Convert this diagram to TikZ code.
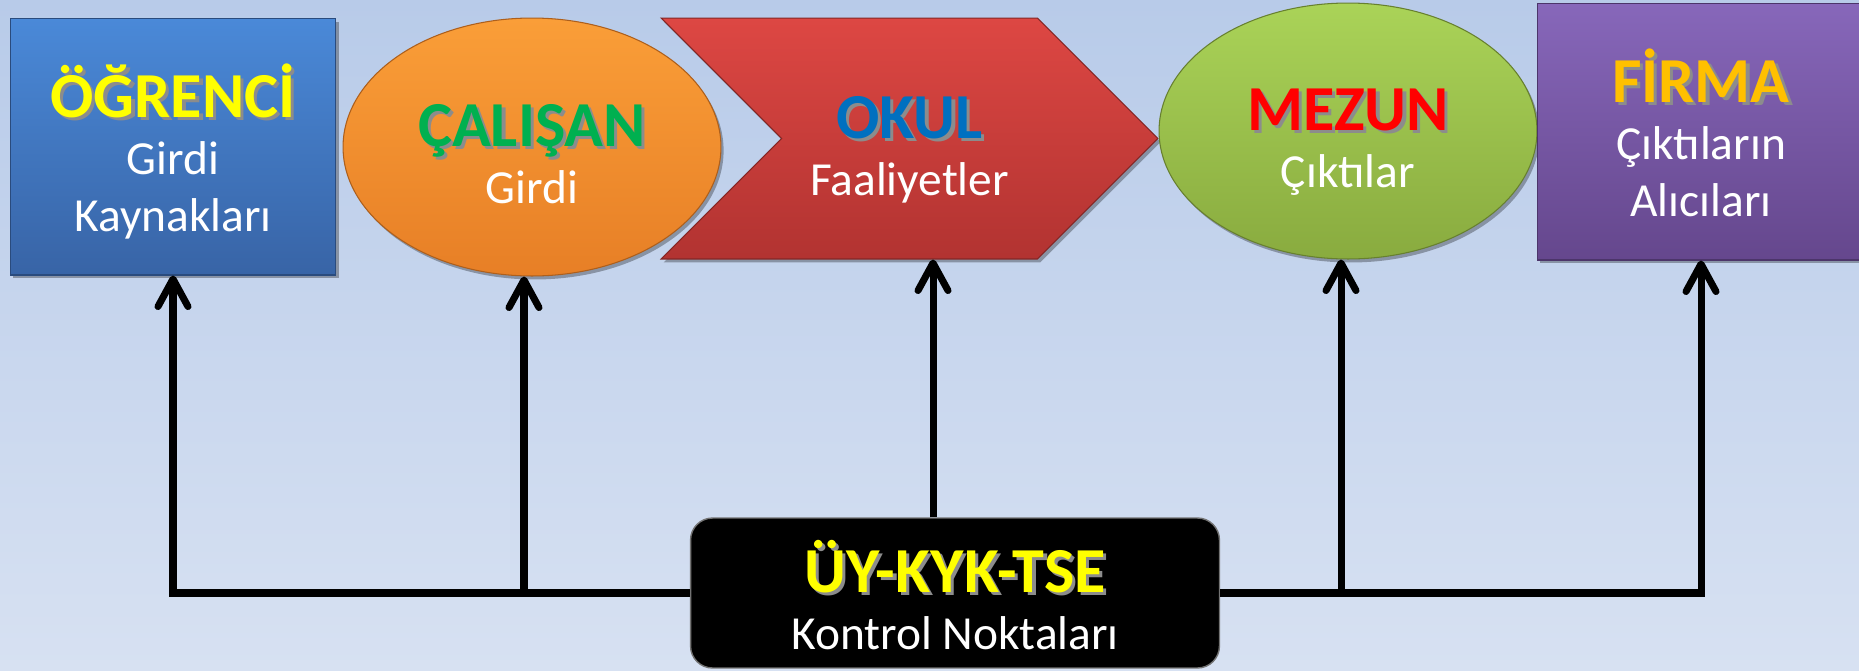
\documentclass[tikz,border=0pt]{standalone}
\usepackage{fontspec}
\setmainfont{Carlito}
\usetikzlibrary{arrows.meta,shapes.geometric,shapes.symbols,shadows}

\definecolor{bgtop}{RGB}{184,203,233}
\definecolor{bgbot}{RGB}{215,225,242}
\definecolor{bluetop}{RGB}{74,137,216}
\definecolor{bluebot}{RGB}{56,100,166}
\definecolor{orangetop}{RGB}{250,158,56}
\definecolor{orangebot}{RGB}{231,127,38}
\definecolor{redtop}{RGB}{221,71,67}
\definecolor{redbot}{RGB}{178,51,49}
\definecolor{greentop}{RGB}{170,211,88}
\definecolor{greenbot}{RGB}{137,171,63}
\definecolor{purpletop}{RGB}{135,103,186}
\definecolor{purplebot}{RGB}{101,71,141}
\definecolor{ttlyellow}{RGB}{255,255,0}
\definecolor{ttlgreen}{RGB}{0,176,80}
\definecolor{ttlblue}{RGB}{0,112,192}
\definecolor{ttlred}{RGB}{255,0,0}
\definecolor{ttlgold}{RGB}{255,192,0}

% bold title with a small dark shadow
\newcommand{\ttl}[2]{{\bfseries\fontsize{36.5}{40}\selectfont\rule{0pt}{38pt}\makebox[0pt][l]{\kern1.8pt\raisebox{-1.8pt}{\textcolor{black!45}{#2}}}\textcolor{#1}{#2}}}

\begin{document}
\begin{tikzpicture}[
    x=0.02cm, y=-0.02cm,
    panel/.style={top color=#1top, bottom color=#1bot, draw=#1bot!75!black, line width=0.6pt,
      drop shadow={shadow xshift=1.5pt, shadow yshift=-2pt, opacity=0.3, fill=black},
      text=white, align=center, inner sep=0pt, text depth=6pt, font=\fontsize{27}{32.5}\selectfont},
    ctrlbox/.style={fill=black, draw=black!55, line width=0.8pt, rounded corners=0.44cm,
      text=white, align=center, inner sep=0pt, text depth=6pt, font=\fontsize{27}{32.5}\selectfont},
    link/.style={line width=4pt},
    arrow/.style={link, -{Straight Barb[length=5.5mm, width=6mm, round]}}
  ]
  \useasboundingbox (0,0) rectangle (1859,670);
  \shade[top color=bgtop, bottom color=bgbot] (0,0) rectangle (1859,670);
  \clip (0,0) rectangle (1859,670);

  % shapes along the top
  \node[panel=blue, rectangle, minimum width=6.52cm, minimum height=5.14cm] (ogrenci) at (173,146.5)
    {\ttl{ttlyellow}{ÖĞRENCİ}\\ Girdi\\ Kaynakları};
  \node[panel=orange, ellipse, minimum width=7.56cm, minimum height=5.16cm] (calisan) at (532,147)
    {\ttl{ttlgreen}{ÇALIŞAN}\\ Girdi};
  \node[panel=red, signal, signal from=west, signal to=east, signal pointer angle=90,
    minimum width=9.94cm, minimum height=4.82cm] (okul) at (909.5,138.5)
    {\ttl{ttlblue}{OKUL}\\ Faaliyetler};
  \node[panel=green, ellipse, minimum width=7.56cm, minimum height=5.12cm] (mezun) at (1348,131)
    {\ttl{ttlred}{MEZUN}\\ Çıktılar};
  \node[panel=purple, rectangle, minimum width=6.56cm, minimum height=5.14cm] (firma) at (1701,131.5)
    {\ttl{ttlgold}{FİRMA}\\ Çıktıların\\ Alıcıları};

  % control points
  \node[ctrlbox, minimum width=10.58cm, minimum height=3cm] (ctrl) at (955,593)
    {\ttl{ttlyellow}{ÜY-KYK-TSE}\\ Kontrol Noktaları};

  \draw[arrow] (ctrl.west) -| (ogrenci.south);
  \draw[arrow] (ctrl.west) -| ([xshift=-0.16cm]calisan.south);
  \draw[arrow] ([xshift=-0.44cm]ctrl.north) -- ([xshift=-0.44cm]ctrl.north |- okul.south);
  \draw[arrow] (ctrl.east) -| ([xshift=-0.14cm]mezun.south);
  \draw[arrow] (ctrl.east) -| (firma.south);
\end{tikzpicture}
\end{document}
